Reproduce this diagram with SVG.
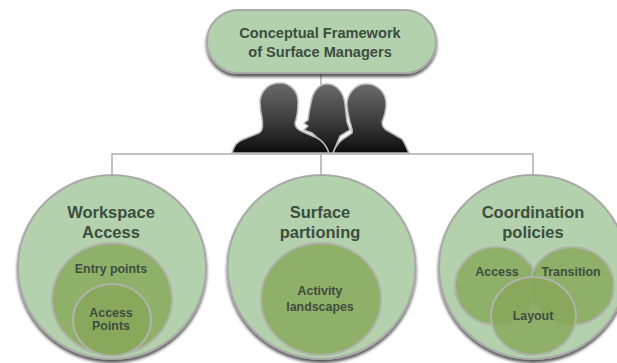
<svg xmlns="http://www.w3.org/2000/svg" width="617" height="363" viewBox="0 0 617 363">
<style>
text{font-family:"Liberation Sans",Arial,sans-serif;font-weight:bold;fill:#3d4d3f;text-anchor:middle}
.t1{font-size:14.6px}.t2{font-size:16.500px}.t3{font-size:12.400px}
.big{fill:#b3d1ad;stroke:#a9aaa8;stroke-width:2;filter:url(#sh)}
.in{fill:#86a858;fill-opacity:.8;stroke:#b0b3aa;stroke-width:2}
.p{fill:url(#pg);stroke:#b8b8b8;stroke-width:1.500}
.c{fill:none;stroke:#aeaeae;stroke-width:1.500}
</style>
<defs>
<filter id="sh" x="-10%" y="-10%" width="120%" height="125%"><feDropShadow dx="0" dy="3" stdDeviation="1.800" flood-color="#000" flood-opacity=".65"/></filter>
<linearGradient id="pg" x1="0" y1="0" x2="0" y2="1"><stop offset="0" stop-color="#6a6a6a"/><stop offset=".55" stop-color="#3c3c3c"/><stop offset="1" stop-color="#0c0c0c"/></linearGradient>
</defs>
<rect width="617" height="363" fill="#fff"/>
<g id="connectors">
<path class="c" d="M321 72V90M112 175V154H533V175M321 154V175"/>
</g>
<g id="people">
<path class="p" d="M316 153L322 142L312 133L304 130L308 126L304 123L308 120C309 112 310 107 311 103C313 91 319 84 327 84C337 84 344 93 345 105L347 122L350 130L340 136L333 153Z"/>
<path class="p" d="M232 153C234 146 236 142 244 139L259 133C263 131 263 126 262 118C260 110 260 106 260 100C262 89 270 83 280 83C290 83 298 91 298 102C298 110 297 117 295 123C295 127 297 129 301 131L317 138C323 141 327 147 329 153Z"/>
<path class="p" d="M333 153C335 147 339 141 346 137L352 133C353 129 351 126 350 122C348 114 347 108 347 102C349 91 357 84 366 84C377 84 386 92 386 104C386 111 384 117 382 122C382 127 384 129 388 131L402 139C405 143 407 149 409 153Z"/>
</g>
<g id="title">
<rect class="big" x="207" y="10" width="229" height="63" rx="31.500"/>
<text class="t1" x="320" y="38">Conceptual Framework</text>
<text class="t1" x="320" y="57">of Surface Managers</text>
</g>
<g id="workspace">
<ellipse class="big" cx="112" cy="267" rx="94" ry="92"/>
<text class="t2" x="111" y="218">Workspace</text>
<text class="t2" x="111" y="238">Access</text>
<ellipse class="in" cx="112" cy="299" rx="60" ry="56"/>
<text class="t3" x="111" y="273">Entry points</text>
<ellipse class="in" cx="112" cy="320" rx="39" ry="36"/>
<text class="t3" x="111" y="317">Access</text>
<text class="t3" x="111" y="330">Points</text>
</g>
<g id="surface">
<ellipse class="big" cx="321.500" cy="267" rx="94" ry="92"/>
<text class="t2" x="320" y="218">Surface</text>
<text class="t2" x="320" y="238">partioning</text>
<ellipse class="in" cx="321" cy="299" rx="60" ry="56"/>
<text class="t3" x="320" y="295">Activity</text>
<text class="t3" x="320" y="311">landscapes</text>
</g>
<g id="coordination">
<ellipse class="big" cx="533" cy="267" rx="94" ry="92"/>
<text class="t2" x="533" y="218">Coordination</text>
<text class="t2" x="533" y="238">policies</text>
<ellipse class="in" cx="496" cy="286" rx="41" ry="39"/>
<ellipse class="in" cx="572" cy="286" rx="42" ry="39"/>
<ellipse class="in" cx="533.500" cy="316" rx="42.500" ry="39"/>
<text class="t3" x="497" y="276">Access</text>
<text class="t3" x="571" y="276">Transition</text>
<text class="t3" x="533" y="320">Layout</text>
</g>
</svg>
